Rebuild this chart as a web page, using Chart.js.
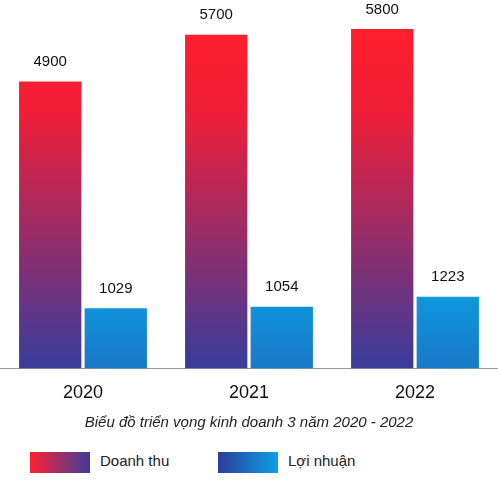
<!DOCTYPE html>
<html><head><meta charset="utf-8">
<script src="https://cdn.jsdelivr.net/npm/chart.js@4"></script>
<style>
body{margin:0;background:#fff;font-family:"Liberation Sans",Arial,sans-serif;}
#wrap{position:relative;width:498px;height:440px;}
#legend{position:absolute;top:452px;left:30px;font-size:15px;color:#222;}
.item{position:absolute;top:0;white-space:nowrap;}
.sw{display:inline-block;width:60px;height:21px;vertical-align:middle;margin-right:10px;}
</style></head><body>
<div id="wrap"><canvas id="c" width="498" height="440"></canvas></div>
<div id="legend">
<div class="item" style="left:0"><span class="sw" style="background:linear-gradient(to right,#ff2030,#3a3d9c)"></span>Doanh thu</div>
<div class="item" style="left:188px"><span class="sw" style="background:linear-gradient(to right,#2a3d9c,#0aa0e4)"></span>Lợi nhuận</div>
</div>
<script>
const categories=["2020","2021","2022"];
const revenue=[4900,5700,5800];
const profit=[1029,1054,1223];
const titleText="Biểu đồ triển vọng kinh doanh 3 năm 2020 - 2022";
function redGrad(ctx){const a=ctx.chart.chartArea;if(!a)return '#f22';const g=ctx.chart.ctx.createLinearGradient(0,a.top,0,a.bottom);g.addColorStop(0,'#ff1e2c');g.addColorStop(0.25,'#f01e38');g.addColorStop(1,'#383c9c');return g;}
function blueGrad(ctx){const a=ctx.chart.chartArea;if(!a)return '#19a';const g=ctx.chart.ctx.createLinearGradient(0,a.bottom-90,0,a.bottom);g.addColorStop(0,'#0a9fe3');g.addColorStop(1,'#1a78c8');return g;}
const labelPlugin={id:'lbl',afterDatasetsDraw(chart){const c=chart.ctx;c.save();c.font='15px "Liberation Sans",Arial';c.fillStyle='#111';c.textAlign='center';c.textBaseline='bottom';
chart.data.datasets.forEach((ds,i)=>{chart.getDatasetMeta(i).data.forEach((b,j)=>{c.fillText(ds.data[j],b.x,b.y-12);});});c.restore();}};
new Chart(document.getElementById('c'),{type:'bar',
data:{labels:categories,datasets:[
{label:'Doanh thu',data:revenue,backgroundColor:redGrad},
{label:'Lợi nhuận',data:profit,backgroundColor:blueGrad}]},
options:{responsive:false,animation:false,layout:{padding:{top:26,left:0,right:0}},
categoryPercentage:0.79,barPercentage:0.95,
plugins:{legend:{display:false},tooltip:{enabled:false},
title:{display:true,position:'bottom',text:titleText,color:'#222',font:{size:15,style:'italic',weight:'normal',family:'"Liberation Sans",Arial'},padding:{top:4,bottom:8}}},
scales:{y:{display:false,min:0,max:5850},
x:{grid:{display:false},border:{color:'#999'},ticks:{color:'#111',font:{size:18,weight:'500',family:'"Liberation Sans",Arial'},padding:6}}}},
plugins:[labelPlugin]});
</script></body></html>
